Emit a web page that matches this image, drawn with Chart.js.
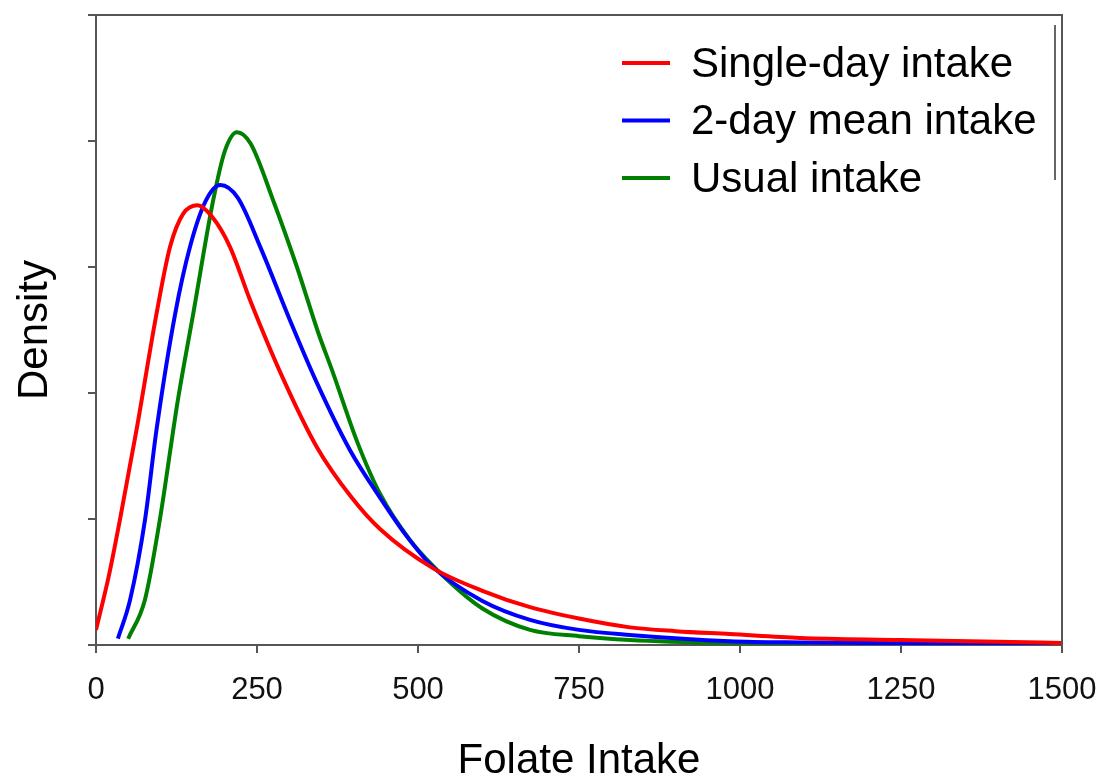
<!DOCTYPE html>
<html lang="en">
<head>
  <meta charset="UTF-8">
  <title>Folate intake density</title>
  <script src="https://cdn.jsdelivr.net/npm/chart.js"></script>
  <style>
    body {
      margin: 0;
      padding: 0;
      background: #fff;
    }
    .wrap {
      width: 1100px;
      height: 777px;
    }
  </style>
</head>
<body>
  <div class="wrap"><canvas id="densityChart"></canvas></div>

  <script>
    // values (x = folate intake, y = density, arbitrary units)
    const seriesLabels = ['Single-day intake', '2-day mean intake', 'Usual intake'];
    const seriesColors = ['#ff0000', '#0000ff', '#008000'];

    const redX = [0, 20, 37, 63, 94, 115, 135, 158, 180, 208, 239, 290, 343, 397, 441, 523, 600, 674, 750, 829, 900, 984, 1093, 1248, 1400, 1500];
    const redY = [0.12, 0.55, 0.99, 1.71, 2.63, 3.16, 3.42, 3.49, 3.40, 3.16, 2.74, 2.12, 1.57, 1.17, 0.92, 0.61, 0.43, 0.30, 0.21, 0.14, 0.11, 0.087, 0.056, 0.04, 0.025, 0.016];

    const blueX = [34, 53, 76, 94, 123, 146, 170, 193, 220, 255, 301, 343, 394, 441, 480, 523, 600, 674, 750, 829, 984, 1100, 1250, 1400, 1485];
    const blueY = [0.05, 0.36, 0.99, 1.71, 2.63, 3.16, 3.52, 3.65, 3.55, 3.16, 2.58, 2.08, 1.55, 1.17, 0.88, 0.62, 0.35, 0.20, 0.12, 0.08, 0.03, 0.02, 0.015, 0.01, 0.0];

    const greenX = [50, 76, 99, 127, 151, 182, 200, 219, 240, 275, 312, 345, 368, 405, 441, 488, 545, 600, 674, 750, 829, 984, 1105];
    const greenY = [0.05, 0.36, 0.99, 1.94, 2.63, 3.53, 3.92, 4.07, 3.98, 3.53, 3.0, 2.48, 2.16, 1.62, 1.2, 0.83, 0.52, 0.29, 0.12, 0.07, 0.04, 0.015, 0.01];

    const xTicks = [0, 250, 500, 750, 1000, 1250, 1500];

    const FONT = '"Liberation Sans", Arial, sans-serif';
    const AXIS = '#555';

    function pts(xs, ys) {
      return xs.map((x, i) => ({ x: x, y: ys[i] }));
    }

    // box around the plot + legend drawn inside the plot area
    const framePlugin = {
      id: 'frame',
      afterDraw(chart) {
        const c = chart.ctx;
        const a = chart.chartArea;
        c.save();
        c.strokeStyle = AXIS;
        c.lineWidth = 2;
        c.beginPath();
        c.moveTo(a.left - 8, a.top);
        c.lineTo(a.right, a.top);
        c.lineTo(a.right, a.bottom);
        c.stroke();

        // legend
        const x0 = a.right - 440;
        const y0 = a.top + 48;
        const gap = 57.5;
        c.font = '42px ' + FONT;
        c.textBaseline = 'middle';
        chart.data.datasets.forEach((ds, i) => {
          const y = y0 + i * gap;
          c.strokeStyle = ds.borderColor;
          c.lineWidth = 4;
          c.beginPath();
          c.moveTo(x0, y);
          c.lineTo(x0 + 48, y);
          c.stroke();
          c.fillStyle = '#000';
          c.fillText(ds.label, x0 + 69, y + 2);
        });
        // right edge of the legend box
        c.strokeStyle = '#666';
        c.lineWidth = 2;
        c.beginPath();
        c.moveTo(a.right - 7, a.top + 10);
        c.lineTo(a.right - 7, a.top + 165);
        c.stroke();
        c.restore();
      }
    };

    const ctx = document.getElementById('densityChart').getContext('2d');
    new Chart(ctx, {
      type: 'line',
      data: {
        datasets: [
          { label: seriesLabels[0], data: pts(redX, redY), borderColor: seriesColors[0] },
          { label: seriesLabels[1], data: pts(blueX, blueY), borderColor: seriesColors[1] },
          { label: seriesLabels[2], data: pts(greenX, greenY), borderColor: seriesColors[2] }
        ]
      },
      options: {
        responsive: true,
        maintainAspectRatio: false,
        animation: false,
        layout: { padding: { top: 15, right: 38, left: 0, bottom: 0 } },
        elements: {
          point: { radius: 0 },
          line: { borderWidth: 4, cubicInterpolationMode: 'monotone', fill: false }
        },
        plugins: {
          legend: { display: false },
          tooltip: { enabled: false }
        },
        scales: {
          x: {
            type: 'linear',
            min: 0,
            max: 1500,
            afterFit(s) { s.height = 132; s.paddingLeft = 0; s.paddingRight = 0; },
            afterBuildTicks(s) { s.ticks = xTicks.map(v => ({ value: v })); },
            border: { color: AXIS, width: 2 },
            grid: { drawOnChartArea: false, color: AXIS, lineWidth: 2, tickLength: 8 },
            ticks: {
              font: { family: FONT, size: 31 },
              color: '#111',
              padding: 19,
              maxRotation: 0,
              callback: v => String(v)
            },
            title: {
              display: true,
              text: 'Folate Intake',
              color: '#000',
              font: { family: FONT, size: 42, lineHeight: 0.72 },
              padding: 0
            }
          },
          y: {
            min: 0,
            max: 5,
            afterFit(s) { s.width = 96; s.paddingTop = 0; s.paddingBottom = 0; },
            border: { color: AXIS, width: 2 },
            grid: { drawOnChartArea: false, color: AXIS, lineWidth: 2, tickLength: 8 },
            ticks: { stepSize: 1, display: false },
            title: {
              display: true,
              text: 'Density',
              color: '#000',
              font: { family: FONT, size: 42, lineHeight: 0.72 },
              padding: { top: 20, bottom: 0 }
            }
          }
        }
      },
      plugins: [framePlugin]
    });
  </script>
</body>
</html>
